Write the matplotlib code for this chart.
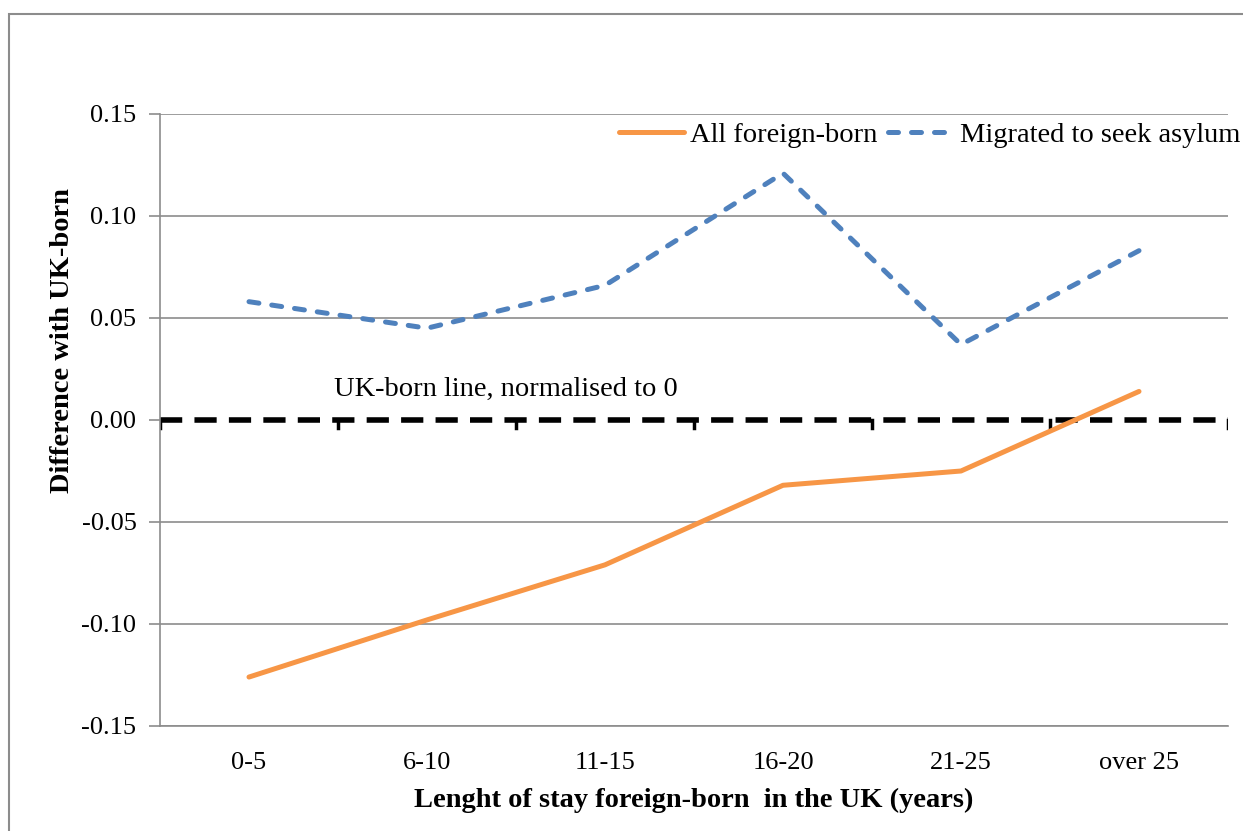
import matplotlib
matplotlib.use('Agg')
import matplotlib.pyplot as plt
from matplotlib.patches import Rectangle

# data
categories = ['0-5', '6-10', '11-15', '16-20', '21-25', 'over 25']
all_foreign = [-0.126, -0.098, -0.071, -0.032, -0.025, 0.014]
asylum = [0.058, 0.045, 0.066, 0.121, 0.037, 0.083]
yticks = [-0.15, -0.10, -0.05, 0.00, 0.05, 0.10, 0.15]

plt.rcParams['font.family'] = ['Liberation Serif', 'DejaVu Serif']
fs_tick = 19
fs = 20.5

fig = plt.figure(figsize=(12.43, 8.31), dpi=100)
# outer chart border (runs off the right / bottom edge)
fig.patches.append(Rectangle((9 / 1243, -0.05), 1.2, 1 - 14 / 831 + 0.05,
                             transform=fig.transFigure, fill=False,
                             edgecolor='#8c8c8c', lw=1.5))

ax = fig.add_axes([160 / 1243, 1 - 726 / 831, (1228 - 160) / 1243, (726 - 114) / 831])
x = list(range(len(categories)))

for v in yticks:
    if v != 0:
        ax.axhline(v, color='#8c8c8c', lw=1.2, zorder=1)

# UK-born reference line (horizontal axis at 0)
ax.axhline(0, color='black', lw=4, linestyle=(0, (4, 2.2)), zorder=2)
for b in range(len(categories) + 1):
    ax.plot([b - 0.5, b - 0.5], [0, -0.004], color='black', lw=2.5, zorder=2)

ax.plot(x, all_foreign, color='#F79646', lw=3.6, solid_capstyle='round',
        label='All foreign-born', zorder=3)
ax.plot(x, asylum, color='#4F81BD', lw=3.6, linestyle=(0, (2, 2.6)),
        dash_capstyle='round', label='Migrated to seek asylum', zorder=3)

ax.text(0.48, 0.015, 'UK-born line, normalised to 0', fontsize=fs, va='center')

ax.set_xlim(-0.5, 5.5)
ax.set_ylim(-0.15, 0.15)
ax.set_yticks(yticks)
ax.set_yticklabels(['%.2f' % v for v in yticks], fontsize=fs_tick)
ax.set_xticks(x)
ax.set_xticklabels(categories, fontsize=fs_tick)
ax.tick_params(axis='x', length=0, pad=19)
ax.tick_params(axis='y', length=8, width=1.2, color='#8c8c8c', pad=9)

for s in ['top', 'right']:
    ax.spines[s].set_visible(False)
for s in ['left', 'bottom']:
    ax.spines[s].set_color('#8c8c8c')
    ax.spines[s].set_linewidth(1.2)

ax.set_xlabel('Lenght of stay foreign-born  in the UK (years)', fontsize=fs,
              fontweight='bold', labelpad=10)
ax.set_ylabel('Difference with UK-born', fontsize=fs, fontweight='bold')
ax.yaxis.set_label_coords(-0.08, 0.63)

fig.legend(loc='center right', bbox_to_anchor=(1240 / 1243, 1 - 135 / 831),
           ncol=2, frameon=False, fontsize=fs, handlelength=2.3,
           handletextpad=0.2, columnspacing=0.4, borderpad=0, borderaxespad=0)

fig.savefig('out.png', dpi=100)
